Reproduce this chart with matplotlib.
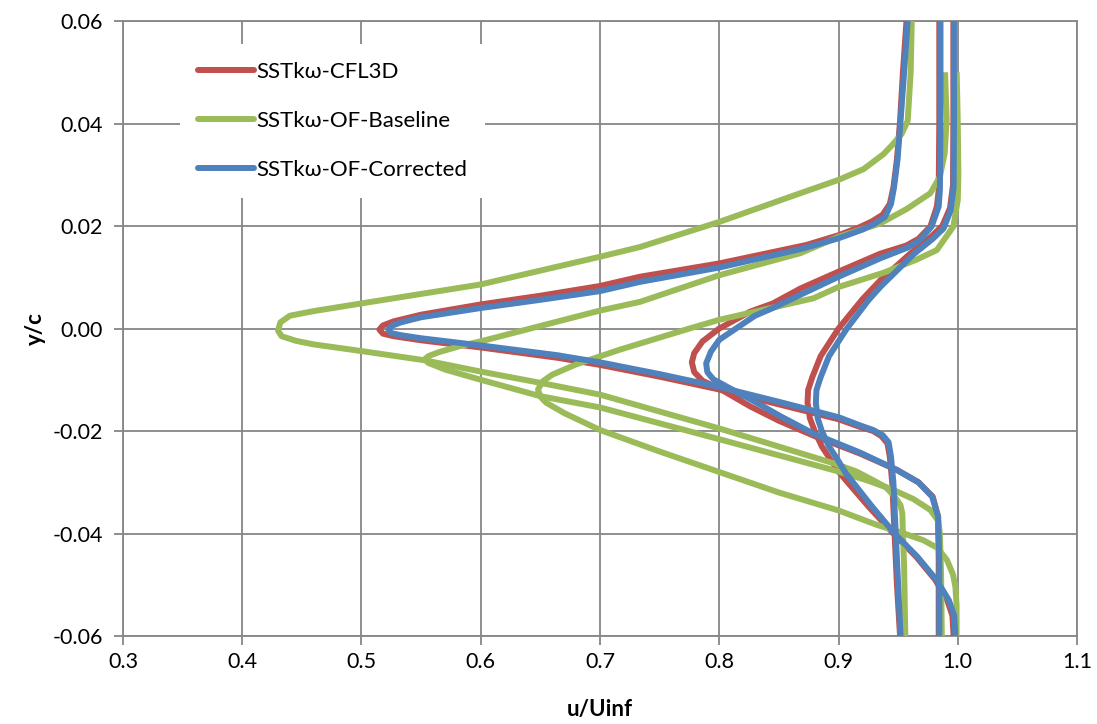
import matplotlib
matplotlib.use("Agg")
import matplotlib.pyplot as plt

plt.rcParams['font.family'] = ['Lato', 'DejaVu Sans']

# CFL3D profiles (u/Uinf, y/c), top to bottom
cfl3d_near_u = [0.957, 0.954, 0.9516, 0.949, 0.946, 0.943, 0.937, 0.928, 0.918, 0.900, 0.873, 0.800, 0.7335,
                0.700, 0.650, 0.600, 0.550, 0.527, 0.518, 0.515, 0.518, 0.527, 0.550, 0.600, 0.664, 0.700,
                0.750, 0.800, 0.850, 0.900, 0.918, 0.929, 0.936, 0.941, 0.943, 0.945, 0.947, 0.949, 0.9516]
cfl3d_near_y = [0.060, 0.050, 0.0405, 0.033, 0.0275, 0.0243, 0.0222, 0.0209, 0.0198, 0.0182, 0.0163, 0.0127,
                0.0101, 0.0083, 0.0064, 0.0047, 0.0027, 0.0014, 0.0006, -0.0002, -0.0010, -0.0015, -0.0023,
                -0.0037, -0.0057, -0.0071, -0.0094, -0.0119, -0.0148, -0.0177, -0.0192, -0.0200, -0.0210,
                -0.0224, -0.0250, -0.0300, -0.0400, -0.0500, -0.0600]
cfl3d_mid_u = [0.9845, 0.9845, 0.9840, 0.9825, 0.977, 0.967, 0.957, 0.935, 0.900, 0.868, 0.845, 0.826, 0.800,
               0.786, 0.779, 0.777, 0.779, 0.786, 0.800, 0.826, 0.850, 0.879, 0.918, 0.949, 0.967, 0.979,
               0.9835, 0.984, 0.984]
cfl3d_mid_y = [0.060, 0.040, 0.0270, 0.0238, 0.0199, 0.0175, 0.0162, 0.0146, 0.0111, 0.0078, 0.0049, 0.0033,
               0.0000, -0.0025, -0.0048, -0.0066, -0.0085, -0.0102, -0.0117, -0.0152, -0.0180, -0.0209,
               -0.0244, -0.0276, -0.0300, -0.0328, -0.0367, -0.0450, -0.0600]
cfl3d_far_u = [0.9963, 0.9963, 0.9960, 0.9935, 0.987, 0.978, 0.961, 0.950, 0.935, 0.920, 0.900, 0.885, 0.878,
               0.8745, 0.874, 0.876, 0.880, 0.886, 0.893, 0.901, 0.925, 0.946, 0.965, 0.981, 0.991, 0.9955,
               0.9965]
cfl3d_far_y = [0.060, 0.040, 0.0280, 0.0235, 0.0200, 0.0180, 0.0148, 0.0125, 0.0094, 0.0057, 0.0000, -0.0054,
               -0.0095, -0.0120, -0.0145, -0.0175, -0.0200, -0.0230, -0.0255, -0.0282, -0.0347, -0.0400,
               -0.0445, -0.0490, -0.0529, -0.0560, -0.0600]

# OpenFOAM baseline profiles
base_near_u = [0.9614, 0.9605, 0.958, 0.953, 0.945, 0.9376, 0.921, 0.900, 0.868, 0.800, 0.7335, 0.700, 0.600,
               0.500, 0.460, 0.440, 0.432, 0.430, 0.433, 0.445, 0.460, 0.500, 0.553, 0.600, 0.650, 0.700,
               0.800, 0.896, 0.915, 0.929, 0.940, 0.947, 0.952, 0.9535, 0.954, 0.955, 0.956]
base_near_y = [0.060, 0.050, 0.0405, 0.0380, 0.0358, 0.0340, 0.0311, 0.0290, 0.0264, 0.0208, 0.0159, 0.0140,
               0.0086, 0.0049, 0.0034, 0.0025, 0.0012, -0.0004, -0.0015, -0.0024, -0.0031, -0.0044, -0.0062,
               -0.0084, -0.0106, -0.0129, -0.0195, -0.0263, -0.0279, -0.0296, -0.0310, -0.0328, -0.0345,
               -0.0361, -0.0400, -0.0464, -0.0600]
base_mid_u = [0.9893, 0.9907, 0.989, 0.985, 0.977, 0.957, 0.935, 0.900, 0.868, 0.800, 0.7335, 0.700, 0.650,
              0.600, 0.583, 0.565, 0.556, 0.553, 0.556, 0.570, 0.600, 0.650, 0.700, 0.800, 0.870, 0.900, 0.925,
              0.946, 0.963, 0.977, 0.9835, 0.985, 0.986, 0.9866]
base_mid_y = [0.050, 0.0407, 0.0342, 0.0296, 0.0264, 0.0233, 0.0205, 0.0179, 0.0147, 0.0104, 0.0052, 0.0035,
              0.0005, -0.0025, -0.0034, -0.0046, -0.0054, -0.0060, -0.0067, -0.0080, -0.0100, -0.0132, -0.0154,
              -0.0216, -0.0260, -0.0279, -0.0297, -0.0315, -0.0333, -0.0354, -0.0375, -0.0400, -0.0480, -0.0600]
base_far_u = [0.9991, 1.0000, 1.0005, 1.0000, 0.9963, 0.9824, 0.965, 0.938, 0.900, 0.879, 0.800, 0.775, 0.717,
              0.680, 0.660, 0.652, 0.648, 0.650, 0.655, 0.670, 0.700, 0.750, 0.800, 0.850, 0.900, 0.932, 0.955,
              0.971, 0.983, 0.991, 0.996, 0.998, 0.999, 0.999]
base_far_y = [0.050, 0.040, 0.030, 0.0251, 0.0199, 0.0153, 0.0134, 0.0109, 0.0081, 0.0059, 0.0017, 0.0000,
              -0.0041, -0.0070, -0.0090, -0.0103, -0.0119, -0.0133, -0.0145, -0.0165, -0.0198, -0.0240, -0.0280,
              -0.0320, -0.0355, -0.0383, -0.0400, -0.0413, -0.0428, -0.0452, -0.0480, -0.0504, -0.0540, -0.0600]

# OpenFOAM corrected profiles
corr_near_u = [0.958, 0.955, 0.952, 0.9495, 0.9465, 0.944, 0.939, 0.930, 0.920, 0.900, 0.870, 0.800, 0.7335,
               0.700, 0.650, 0.600, 0.550, 0.533, 0.525, 0.5225, 0.525, 0.533, 0.550, 0.600, 0.664, 0.700,
               0.750, 0.800, 0.850, 0.900, 0.918, 0.929, 0.937, 0.942, 0.944, 0.946, 0.948, 0.950, 0.952]
corr_near_y = [0.060, 0.050, 0.0405, 0.033, 0.0275, 0.0243, 0.0218, 0.0204, 0.0193, 0.0176, 0.0156, 0.0119,
               0.0091, 0.0073, 0.0056, 0.0040, 0.0022, 0.0012, 0.0005, -0.0002, -0.0009, -0.0013, -0.0019,
               -0.0033, -0.0052, -0.0066, -0.0089, -0.0114, -0.0143, -0.0173, -0.0189, -0.0198, -0.0208,
               -0.0222, -0.0250, -0.0300, -0.0400, -0.0500, -0.0600]
corr_mid_u = [0.9855, 0.9855, 0.985, 0.984, 0.978, 0.968, 0.958, 0.935, 0.900, 0.870, 0.845, 0.830, 0.814,
              0.800, 0.793, 0.789, 0.790, 0.795, 0.806, 0.830, 0.852, 0.879, 0.918, 0.949, 0.967, 0.9785,
              0.9835, 0.9845, 0.9845]
corr_mid_y = [0.060, 0.040, 0.0270, 0.0238, 0.0199, 0.0172, 0.0158, 0.0137, 0.0101, 0.0068, 0.0040, 0.0025,
              0.0000, -0.0022, -0.0045, -0.0068, -0.0085, -0.0099, -0.0113, -0.0143, -0.0172, -0.0205, -0.0242,
              -0.0276, -0.0300, -0.0328, -0.0367, -0.0450, -0.0600]
corr_far_u = [0.9968, 0.9968, 0.9965, 0.994, 0.988, 0.979, 0.963, 0.952, 0.935, 0.925, 0.907, 0.892, 0.885,
              0.8815, 0.881, 0.8825, 0.886, 0.892, 0.899, 0.906, 0.928, 0.947, 0.966, 0.982, 0.9925, 0.997, 0.998]
corr_far_y = [0.060, 0.040, 0.0275, 0.0230, 0.0195, 0.0175, 0.0145, 0.0120, 0.0081, 0.0055, 0.0000, -0.0054,
              -0.0095, -0.0120, -0.0145, -0.0175, -0.0200, -0.0230, -0.0255, -0.0282, -0.0347, -0.0400,
              -0.0445, -0.0490, -0.0530, -0.0560, -0.0600]

x_ticks = [0.3, 0.4, 0.5, 0.6, 0.7, 0.8, 0.9, 1.0, 1.1]
y_ticks = [-0.06, -0.04, -0.02, 0.00, 0.02, 0.04, 0.06]

red = '#C0504D'
green = '#9BBB59'
blue = '#4F81BD'
grey = '#868686'

fig = plt.figure(figsize=(10.97, 7.24), dpi=100)
ax = fig.add_axes([0.1121, 0.1215, 0.8697, 0.8495])

series = [
    ('SSTkω-CFL3D', red, [(cfl3d_near_u, cfl3d_near_y), (cfl3d_mid_u, cfl3d_mid_y), (cfl3d_far_u, cfl3d_far_y)]),
    ('SSTkω-OF-Baseline', green, [(base_near_u, base_near_y), (base_mid_u, base_mid_y), (base_far_u, base_far_y)]),
    ('SSTkω-OF-Corrected', blue, [(corr_near_u, corr_near_y), (corr_mid_u, corr_mid_y), (corr_far_u, corr_far_y)]),
]
for i, (name, col, profiles) in enumerate(series):
    for j, (u, y) in enumerate(profiles):
        ax.plot(u, y, color=col, lw=4.3, solid_joinstyle='round', solid_capstyle='butt',
                label=name if j == 0 else None, zorder=3 + i)

ax.set_xlim(0.3, 1.1)
ax.set_ylim(-0.06, 0.06)
ax.set_xticks(x_ticks)
ax.set_yticks(y_ticks)
ax.set_xticklabels([f'{v:.1f}' for v in x_ticks])
ax.set_yticklabels([f'{v:.2f}' for v in y_ticks])
ax.grid(True, color=grey, lw=1.3)
ax.set_axisbelow(True)
for s in ax.spines.values():
    s.set_color(grey)
    s.set_linewidth(1.3)
ax.tick_params(axis='both', direction='out', length=6.5, width=1.3, color=grey,
               labelsize=15.5, labelcolor='black')
ax.tick_params(axis='x', pad=5)
ax.tick_params(axis='y', pad=8)

ax.set_xlabel('u/Uinf', fontsize=16, fontweight='bold')
ax.set_ylabel('y/c', fontsize=16, fontweight='bold')
ax.xaxis.set_label_coords(0.5, -0.102)
ax.yaxis.set_label_coords(-0.081, 0.5)

leg = ax.legend(loc='upper left', bbox_to_anchor=(0.0486, 0.98), fontsize=16, frameon=True,
                facecolor='white', edgecolor='none', framealpha=1, fancybox=False,
                handlelength=2.5, handletextpad=0.1, labelspacing=1.3, borderpad=0.8)
leg.set_zorder(10)
for line in leg.get_lines():
    line.set_linewidth(4.3)
    line.set_solid_capstyle('round')

fig.savefig('out.png', dpi=100)
